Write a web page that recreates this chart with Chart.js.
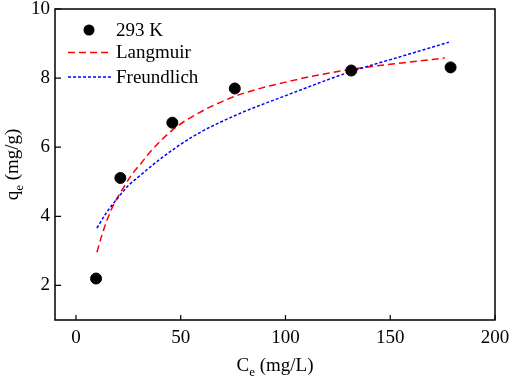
<!DOCTYPE html>
<html>
<head>
<meta charset="utf-8">
<script src="https://cdn.jsdelivr.net/npm/chart.js@4.4.1/dist/chart.umd.min.js"></script>
<style>
  html, body { margin: 0; padding: 0; background: #fff; }
  #wrap { position: relative; width: 512px; height: 378px; }
</style>
</head>
<body>
<div id="wrap"><canvas id="chart"></canvas></div>
<script>
// measured points, 293 K
const ceData = [9.6, 21.2, 46.0, 75.8, 131.4, 178.8];
const qeData = [2.2, 5.11, 6.71, 7.70, 8.22, 8.31];

// fitted curves
const langX = [10, 12.2, 15.4, 18.5, 22.6, 26.6, 31.4, 35.4, 45.7, 55.3, 75.3, 102.6, 129.8, 158.7, 176];
const langY = [2.96, 3.42, 3.98, 4.4, 4.82, 5.2, 5.56, 5.86, 6.48, 6.88, 7.46, 7.92, 8.24, 8.46, 8.58];
const freuX = [10, 14.6, 19.4, 25, 30, 39.4, 56.1, 75.3, 102.6, 129.8, 158.7, 178];
const freuY = [3.66, 4.11, 4.49, 4.89, 5.15, 5.62, 6.32, 6.9, 7.55, 8.16, 8.69, 9.04];

const xTicks = [0, 50, 100, 150, 200];
const yTicks = [2, 4, 6, 8, 10];

const FONT = "'Liberation Serif', 'Times New Roman', serif";

function pairs(xs, ys) {
  return xs.map((x, i) => ({ x: x, y: ys[i] }));
}

function noPad(s) {
  s.paddingTop = 0; s.paddingBottom = 0;
  s.paddingLeft = 0; s.paddingRight = 0;
}

// box, inward ticks, axis titles and legend
const decor = {
  id: "decor",
  afterDraw(chart) {
    const ctx = chart.ctx;
    const a = chart.chartArea;
    const xs = chart.scales.x, ys = chart.scales.y;
    ctx.save();
    ctx.strokeStyle = "#000";
    ctx.lineWidth = 1.5;
    ctx.strokeRect(a.left, a.top, a.right - a.left, a.bottom - a.top);

    ctx.lineWidth = 1.2;
    ctx.beginPath();
    xTicks.forEach(v => {
      const px = xs.getPixelForValue(v);
      ctx.moveTo(px, a.bottom);
      ctx.lineTo(px, a.bottom - 5);
    });
    yTicks.forEach(v => {
      const py = ys.getPixelForValue(v);
      ctx.moveTo(a.left, py);
      ctx.lineTo(a.left + 6, py);
    });
    ctx.stroke();

    ctx.fillStyle = "#000";
    ctx.textBaseline = "alphabetic";

    // x title: Ce (mg/L)
    const big = "19px " + FONT, small = "13px " + FONT;
    ctx.font = big;
    const wC = ctx.measureText("C").width;
    const wRest = ctx.measureText(" (mg/L)").width;
    ctx.font = small;
    const wE = ctx.measureText("e").width;
    let total = wC + wE + wRest;
    let x0 = (a.left + a.right) / 2 - total / 2;
    const by = 371;
    ctx.font = big; ctx.fillText("C", x0, by);
    ctx.font = small; ctx.fillText("e", x0 + wC, by + 5);
    ctx.font = big; ctx.fillText(" (mg/L)", x0 + wC + wE, by);

    // y title: qe (mg/g)
    ctx.save();
    ctx.translate(18, (a.top + a.bottom) / 2);
    ctx.rotate(-Math.PI / 2);
    ctx.font = big;
    const wq = ctx.measureText("q").width;
    const wR = ctx.measureText(" (mg/g)").width;
    ctx.font = small;
    const we = ctx.measureText("e").width;
    total = wq + we + wR;
    x0 = -total / 2;
    ctx.font = big; ctx.fillText("q", x0, 0);
    ctx.font = small; ctx.fillText("e", x0 + wq, 5);
    ctx.font = big; ctx.fillText(" (mg/g)", x0 + wq + we, 0);
    ctx.restore();

    // legend
    const ds = chart.data.datasets;
    const lx = a.left + 13, tx = a.left + 61;
    const rows = [a.top + 21, a.top + 43.5, a.top + 68];
    ctx.font = big;
    ctx.textBaseline = "middle";
    // marker row
    ctx.beginPath();
    ctx.arc(lx + 21, rows[0], 5.5, 0, Math.PI * 2);
    ctx.fillStyle = "#000";
    ctx.fill();
    ctx.fillText(ds[0].label, tx, rows[0] + 1);
    [1, 2].forEach(i => {
      ctx.beginPath();
      ctx.strokeStyle = ds[i].borderColor;
      ctx.lineWidth = ds[i].borderWidth;
      ctx.setLineDash(ds[i].borderDash);
      ctx.moveTo(lx, rows[i]);
      ctx.lineTo(lx + 44, rows[i]);
      ctx.stroke();
      ctx.setLineDash([]);
      ctx.fillStyle = "#000";
      ctx.fillText(ds[i].label, tx, rows[i] + 1);
    });
    ctx.restore();
  }
};

new Chart(document.getElementById("chart"), {
  type: "scatter",
  data: {
    datasets: [
      {
        label: "293 K",
        data: pairs(ceData, qeData),
        backgroundColor: "#000",
        borderColor: "#000",
        pointRadius: 5.5,
        pointHoverRadius: 5.5,
        showLine: false,
        order: 0
      },
      {
        label: "Langmuir",
        type: "line",
        data: pairs(langX, langY),
        borderColor: "#ff0000",
        borderWidth: 1.5,
        borderDash: [7, 4],
        pointRadius: 0,
        fill: false,
        cubicInterpolationMode: "monotone",
        order: 2
      },
      {
        label: "Freundlich",
        type: "line",
        data: pairs(freuX, freuY),
        borderColor: "#0000ff",
        borderWidth: 1.5,
        borderDash: [3, 2],
        pointRadius: 0,
        fill: false,
        cubicInterpolationMode: "monotone",
        order: 1
      }
    ]
  },
  options: {
    responsive: true,
    maintainAspectRatio: false,
    animation: false,
    layout: { padding: { top: 9, right: 17, left: 0, bottom: 0 } },
    plugins: { legend: { display: false }, tooltip: { enabled: false } },
    scales: {
      x: {
        type: "linear",
        min: -10,
        max: 200,
        afterBuildTicks: s => { s.ticks = xTicks.map(v => ({ value: v })); },
        afterFit: s => { s.height = 58; noPad(s); },
        grid: { display: false, drawTicks: false },
        border: { display: false },
        ticks: { color: "#000", font: { family: FONT, size: 19 }, padding: 7, maxRotation: 0, autoSkip: false }
      },
      y: {
        type: "linear",
        min: 1,
        max: 10,
        afterBuildTicks: s => { s.ticks = yTicks.map(v => ({ value: v })); },
        afterFit: s => { s.width = 55; noPad(s); },
        grid: { display: false, drawTicks: false },
        border: { display: false },
        ticks: { color: "#000", font: { family: FONT, size: 19 }, padding: 5 }
      }
    }
  },
  plugins: [decor]
});
</script>
</body>
</html>
